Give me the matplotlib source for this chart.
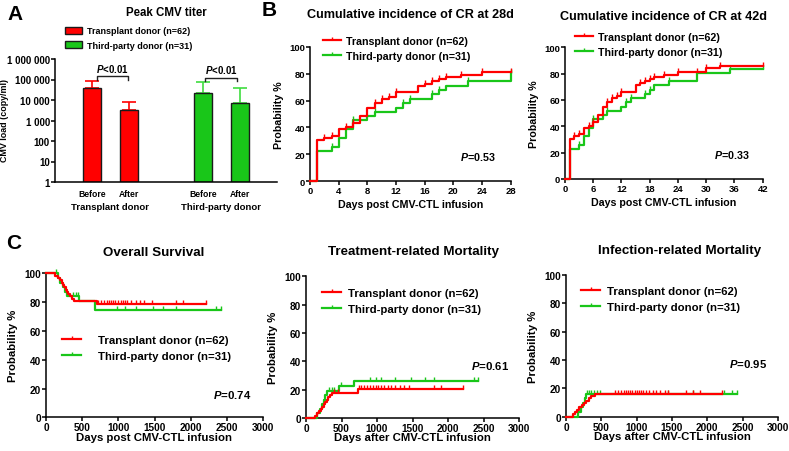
import numpy as np
import matplotlib.pyplot as plt
from matplotlib.lines import Line2D
from matplotlib.patches import Patch

plt.rcParams['font.family'] = 'Liberation Sans'
plt.rcParams['font.weight'] = 'bold'
plt.rcParams['mathtext.fontset'] = 'custom'
plt.rcParams['mathtext.it'] = 'Liberation Sans:italic:bold'
plt.rcParams['mathtext.rm'] = 'Liberation Sans:bold'

RED = '#FF0000'
GREEN = '#19C619'
GREEN_LT = '#3FDD3F'
LAB_TD = 'Transplant donor (n=62)'
LAB_TP = 'Third-party donor (n=31)'

# %% A) Peak CMV titer (copy/ml)
bar_groups = ['Transplant donor', 'Third-party donor']
bar_labels = ['Before', 'After', 'Before', 'After']
td_load = [38000, 3200]
td_err_top = [88000, 8000]
tp_load = [23000, 7000]
tp_err_top = [78000, 38000]
load_ticks = [1, 10, 100, 1000, 10000, 100000, 1000000]

# %% B) Cumulative incidence of CR (days, %)
cr_td_days = [0, 1, 2, 3, 4, 5, 6, 7, 8, 9, 10, 11, 12, 15, 16, 17, 18, 19, 21, 24, 30, 33]
cr_td_pct = [0, 30.6, 32.3, 33.9, 38.7, 40.3, 43.5, 48.4, 54.8, 58.1, 61.3, 62.9,
             66.1, 71.0, 72.6, 74.2, 75.8, 77.4, 79.0, 81.5, 84.0, 86.0]
cr_td_cens = [2, 3, 5, 6, 9, 10, 11, 12, 16, 17, 18, 19, 21, 24, 28, 30, 33, 42]
cr_tp_days = [0, 1, 3, 4, 5, 6, 8, 9, 12, 13, 14, 17, 18, 19, 22, 28, 35]
cr_tp_pct = [0, 22.6, 25.8, 32.3, 38.7, 45.2, 48.4, 51.6, 54.8, 58.1, 61.3, 64.5,
             67.7, 71.0, 74.2, 80.6, 83.9]
cr_tp_cens = [3, 6, 9, 13, 14, 17, 18, 22, 35]

# %% C) Overall survival (days, %)
os_td_days = [0, 120, 160, 190, 215, 235, 255, 270, 290, 310, 335, 360, 385, 700]
os_td_pct = [100, 98.4, 96.8, 95.2, 93.5, 91.9, 90.3, 88.7, 87.1, 85.5, 83.9, 82.3, 80.6, 79.0]
os_td_end = 2210
os_td_cens = [720, 760, 800, 840, 870, 900, 930, 960, 1000, 1030, 1060, 1090, 1120,
              1180, 1250, 1300, 1350, 1460, 1800, 1900, 2210]
os_tp_days = [0, 160, 200, 230, 260, 290, 450, 680]
os_tp_pct = [100, 96.8, 93.5, 90.3, 87.1, 83.9, 80.6, 74.2]
os_tp_end = 2420
os_tp_cens = [140, 380, 410, 440, 980, 1090, 1250, 1480, 1620, 1800, 2350, 2420]

# Treatment-related mortality
trm_td_days = [0, 120, 150, 180, 210, 230, 250, 270, 290, 310, 340, 370, 730]
trm_td_pct = [0, 1.6, 3.2, 4.8, 6.5, 8.1, 9.7, 11.3, 12.9, 14.5, 16.1, 17.7, 20.5]
trm_td_end = 2215
trm_td_cens = [400, 450, 740, 780, 820, 860, 900, 940, 980, 1020, 1060, 1100, 1150,
               1200, 1260, 1320, 1380, 1450, 1800, 1900, 2215]
trm_tp_days = [0, 150, 200, 230, 250, 270, 300, 470, 680]
trm_tp_pct = [0, 3.2, 6.5, 9.7, 12.9, 16.1, 19.4, 22.6, 25.8]
trm_tp_end = 2425
trm_tp_cens = [330, 360, 400, 490, 900, 980, 1060, 1250, 1480, 1670, 1800, 2360, 2425]

# Infection-related mortality
irm_td_days = [0, 105, 125, 160, 190, 230, 260, 290, 320, 360, 410]
irm_td_pct = [0, 1.6, 3.2, 4.8, 6.5, 8.1, 9.7, 11.3, 12.9, 14.5, 16.1]
irm_td_end = 2210
irm_td_cens = [690, 740, 780, 820, 850, 880, 910, 940, 970, 1000, 1030, 1060, 1090,
               1130, 1180, 1230, 1280, 1330, 1400, 1450, 1700, 1800, 1900, 2210]
irm_tp_days = [0, 170, 210, 240, 265, 290]
irm_tp_pct = [0, 3.2, 6.5, 9.7, 12.9, 16.1]
irm_tp_end = 2420
irm_tp_cens = [300, 330, 360, 400, 440, 480, 1450, 1800, 2230, 2350, 2420]

# %% Layout helpers (pixels, origin top-left)
W, H = 789, 452
fig = plt.figure(figsize=(W / 100, H / 100), dpi=100)


def add_ax(x0, y0, x1, y1):
    return fig.add_axes([x0 / W, 1 - y1 / H, (x1 - x0) / W, (y1 - y0) / H])


def ftext(x, y, s, **kw):
    kw.setdefault('ha', 'center')
    kw.setdefault('va', 'center')
    kw.setdefault('fontweight', 'bold')
    fig.text(x / W, 1 - y / H, s, **kw)


def style_axes(ax, fs):
    for s in ['top', 'right']:
        ax.spines[s].set_visible(False)
    for s in ['left', 'bottom']:
        ax.spines[s].set_linewidth(1.1)
    ax.tick_params(direction='out', length=2.6, width=1.1, pad=1.0, labelsize=fs)
    for lab in ax.get_xticklabels() + ax.get_yticklabels():
        lab.set_fontweight('bold')


TICK = [(0, 0), (0, 1)]  # censor tick pointing up


def km(ax, days, pct, end, cens, color, lw=1.6):
    days = np.array(days, float)
    pct = np.array(pct, float)
    keep = days <= end
    d, p = days[keep], pct[keep]
    x = np.append(d, end)
    y = np.append(p, p[-1])
    ax.step(x, y, where='post', color=color, lw=lw, clip_on=False, zorder=3)
    c = np.array([t for t in cens if t <= end], float)
    idx = np.searchsorted(days, c, side='right') - 1
    ax.plot(c, pct[idx], ls='none', marker=TICK, ms=6, mew=1.0, mec=color,
            color=color, clip_on=False, zorder=3)


def km_legend(ax, top, left, fs, tpad):
    handles = [Line2D([0], [0], color=RED, lw=1.6, marker=TICK, ms=5, mew=1.0),
               Line2D([0], [0], color=GREEN, lw=1.6, marker=TICK, ms=5, mew=1.0)]
    ax.legend(handles, [LAB_TD, LAB_TP], loc='upper left',
              bbox_to_anchor=(left / W, 1 - top / H), bbox_transform=fig.transFigure,
              frameon=False, borderpad=0, borderaxespad=0, handlelength=1.7,
              handletextpad=tpad, labelspacing=0.45, prop={'size': fs, 'weight': 'bold'})


def p_text(x, y, val, fs):
    ftext(x, y, r'$P$=' + val, fontsize=fs)


# %% Panel A
axA = add_ax(55, 60, 277, 183)
pos = [1, 2, 4, 5]
loads = td_load + tp_load
tops = td_err_top + tp_err_top
colors = [RED, RED, GREEN, GREEN]
ecolors = [RED, RED, GREEN_LT, GREEN_LT]
for i in range(4):
    axA.errorbar(pos[i], loads[i], yerr=[[0], [tops[i] - loads[i]]], color=ecolors[i],
                 lw=1.2, capsize=5, capthick=1.2, zorder=1)
axA.bar(pos, loads, width=0.46, bottom=1, color=colors, edgecolor='#1a1a1a', lw=1.0, zorder=2)
axA.set_yscale('log')
axA.set_ylim(1, 1e6)
axA.set_xlim(0, 6)
axA.set_yticks(load_ticks)
axA.set_yticklabels([f'{v:,}'.replace(',', ' ') for v in load_ticks])
axA.minorticks_off()
axA.set_xticks(pos)
axA.set_xticklabels(bar_labels)
style_axes(axA, 7)
axA.tick_params(axis='x', length=0, pad=5, labelsize=6.2)
for (a, b), (l, r) in zip([(0, 1), (2, 3)], [(0.13, -0.03), (0.05, -0.08)]):
    y0 = max(tops[a], tops[b]) * 1.6
    axA.plot([pos[a] + l, pos[a] + l, pos[b] + r, pos[b] + r], [y0 * 0.65, y0, y0, y0 * 0.65],
             color='#222222', lw=1.0, clip_on=False)
    axA.text((pos[a] + pos[b] + l + r) / 2, y0 * 1.35, r'$P$<0.01', ha='center', va='bottom',
             fontsize=7, fontweight='bold')
ftext(110, 208, bar_groups[0], fontsize=6.8)
ftext(221, 208, bar_groups[1], fontsize=6.8)
ftext(5, 121, 'CMV load (copy/ml)', rotation=90, fontsize=6.4)
ftext(166, 13, 'Peak CMV titer', fontsize=8.3)
ftext(15, 15, 'A', fontsize=15)
axA.legend([Patch(facecolor=RED, edgecolor='#1a1a1a', lw=1.0),
            Patch(facecolor=GREEN, edgecolor='#1a1a1a', lw=1.0)], [LAB_TD, LAB_TP],
           loc='upper left', bbox_to_anchor=(65 / W, 1 - 27.5 / H), bbox_transform=fig.transFigure,
           frameon=False, borderpad=0, borderaxespad=0, handlelength=1.9, handleheight=0.9,
           handletextpad=0.55, labelspacing=0.57, prop={'size': 6.5, 'weight': 'bold'})

# %% Panel B
cr_panels = [
    ((310, 47.7, 510.7, 182.3), 28, np.arange(0, 29, 4), 'Cumulative incidence of CR at 28d',
     (410.5, 15.3), (279, 115), (410.5, 205), (323, 36.8), (478, 157), '0.53'),
    ((565, 48.3, 762.7, 180), 42, np.arange(0, 43, 6), 'Cumulative incidence of CR at 42d',
     (664, 16.7), (534, 114), (664, 203), (575, 32.8), (732, 155), '0.33'),
]
for box, end, xt, title, tpos, ylpos, xlpos, lgpos, ppos, pv in cr_panels:
    ax = add_ax(*box)
    km(ax, cr_tp_days, cr_tp_pct, end, cr_tp_cens + [end], GREEN)
    km(ax, cr_td_days, cr_td_pct, end, cr_td_cens, RED)
    ax.set_xlim(0, end)
    ax.set_ylim(0, 100)
    ax.set_xticks(xt)
    ax.set_yticks(range(0, 101, 20))
    style_axes(ax, 6.8)
    ftext(*tpos, title, fontsize=9.1)
    ftext(*ylpos, 'Probability %', rotation=90, fontsize=7.7)
    ftext(*xlpos, 'Days post CMV-CTL infusion', fontsize=7.7)
    km_legend(ax, lgpos[1], lgpos[0], 7.7, 0.45)
    p_text(*ppos, pv, 7.7)
ftext(269, 10, 'B', fontsize=15)

# %% Panel C
c_panels = [
    ((46, 274.3, 263, 418.3), 'Overall Survival', (154, 253), (13, 346), (154.5, 438),
     (os_td_days, os_td_pct, os_td_end, os_td_cens), (os_tp_days, os_tp_pct, os_tp_end, os_tp_cens),
     (62, 336.4), 1.5, (231.7, 395), '0.74', 'Days post CMV-CTL infusion'),
    ((306, 277.3, 519, 419), 'Treatment-related Mortality', (413, 252), (273, 348), (412.5, 438),
     (trm_td_days, trm_td_pct, trm_td_end, trm_td_cens), (trm_tp_days, trm_tp_pct, trm_tp_end, trm_tp_cens),
     (322, 289.4), 0.6, (489.8, 365.7), '0.61', 'Days after CMV-CTL infusion'),
    ((566, 276, 778, 417.7), 'Infection-related Mortality', (680, 251), (533, 347), (672, 437),
     (irm_td_days, irm_td_pct, irm_td_end, irm_td_cens), (irm_tp_days, irm_tp_pct, irm_tp_end, irm_tp_cens),
     (581, 287.4), 0.6, (748.3, 364), '0.95', 'Days after CMV-CTL infusion'),
]
for box, title, tpos, ylpos, xlpos, td, tp, lgpos, tpad, ppos, pv, xl in c_panels:
    ax = add_ax(*box)
    km(ax, *tp, GREEN)
    km(ax, *td, RED)
    ax.set_xlim(0, 3000)
    ax.set_ylim(0, 100)
    ax.set_xticks(range(0, 3001, 500))
    ax.set_yticks(range(0, 101, 20))
    style_axes(ax, 7.2)
    ftext(*tpos, title, fontsize=9.6)
    ftext(*ylpos, 'Probability %', rotation=90, fontsize=8.2)
    ftext(*xlpos, xl, fontsize=8.2)
    km_legend(ax, lgpos[1], lgpos[0], 8.2, tpad)
    p_text(*ppos, pv, 8.2)
ftext(14, 244, 'C', fontsize=15)

fig.savefig('out.png', dpi=100)
